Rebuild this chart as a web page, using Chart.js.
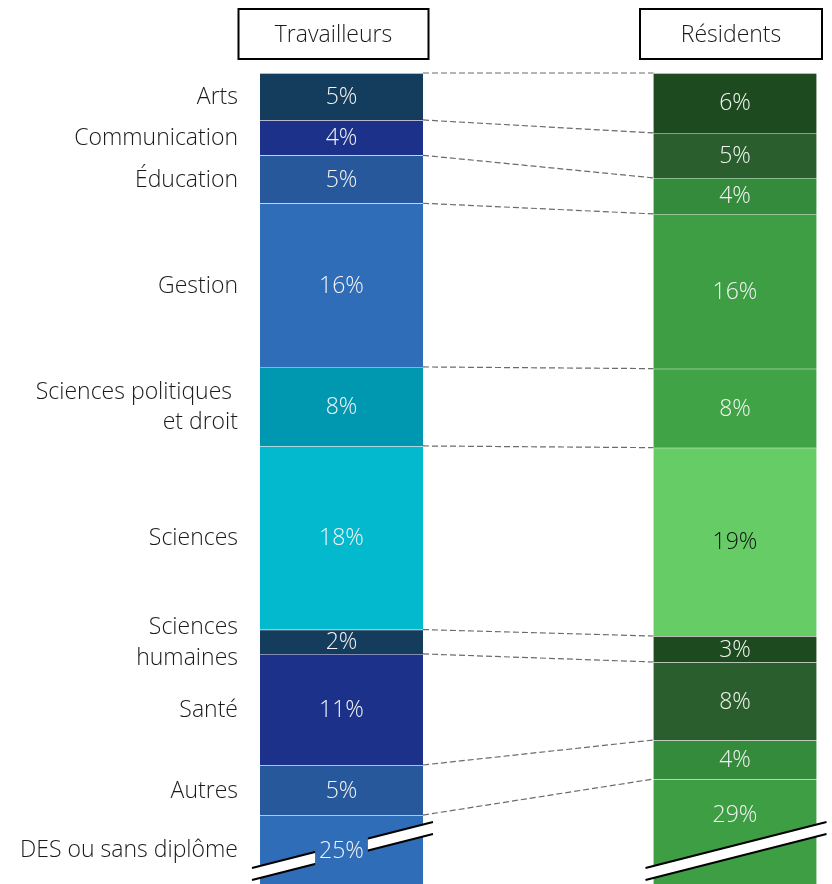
<!DOCTYPE html>
<html lang="fr">
<head>
<meta charset="utf-8">
<script src="https://cdn.jsdelivr.net/npm/chart.js@4"></script>
<style>
  html, body { margin: 0; padding: 0; background: #fff; }
  #wrap { width: 832px; height: 884px; }
</style>
</head>
<body>
<div id="wrap"><canvas id="myChart" width="832" height="884"></canvas></div>
<script>
const groups = ["Travailleurs", "Résidents"];
const categories = [
  ["Arts"],
  ["Communication"],
  ["Éducation"],
  ["Gestion"],
  ["Sciences politiques ", "et droit"],
  ["Sciences"],
  ["Sciences", "humaines"],
  ["Santé"],
  ["Autres"],
  ["DES ou sans diplôme"],
];
const travailleurs = [4.72, 3.55, 4.82, 16.45, 7.94, 18.45, 2.45, 11.16, 5.03, 25.43];
const residents = [6.02, 4.52, 3.62, 15.55, 7.94, 18.93, 2.61, 7.84, 3.92, 29.05];

const blues = ["#143d5d", "#1c318a", "#27589c", "#2f6db8", "#0097b1", "#02b9cd", "#143d5d", "#1c318a", "#27589c", "#2f6db8"];
const greens = ["#1d4b1f", "#2a5e2c", "#348b3b", "#3e9e43", "#40a346", "#66cc66", "#1d4b1f", "#2a5e2c", "#348b3b", "#3e9e43"];

const FONT = "350 23px 'Open Sans', 'DejaVu Sans', sans-serif";

// y value cut off at the bottom edge (both stacks run past it)
const yCut = 81.5;

const overlay = {
  id: "overlay",
  afterDatasetsDraw(chart) {
    const ctx = chart.ctx;
    const area = chart.chartArea;
    const n = chart.data.datasets.length;

    const box = (di, bi) => {
      const el = chart.getDatasetMeta(di).data[bi];
      const p = el.getProps(["x", "y", "base", "width"], true);
      return {
        x: p.x,
        left: p.x - p.width / 2,
        right: p.x + p.width / 2,
        top: Math.min(p.y, p.base),
        bottom: Math.max(p.y, p.base),
      };
    };

    ctx.save();

    // dashed links between the two stacks
    ctx.setLineDash([6, 3]);
    ctx.strokeStyle = "#6b6b6b";
    ctx.lineWidth = 1.2;
    for (let i = 0; i < n; i++) {
      const a = box(i, 0);
      const b = box(i, 1);
      ctx.beginPath();
      ctx.moveTo(a.right, a.top);
      ctx.lineTo(b.left, b.top);
      ctx.stroke();
    }
    ctx.setLineDash([]);

    // axis break on the last segment of each stack
    [0, 1].forEach((bi) => {
      const b = box(n - 1, bi);
      const xa = b.left - 8;
      const xb = b.right + 10;
      const ya = area.bottom - 16;
      const yb = area.bottom - 62;
      const gap = 12;
      ctx.fillStyle = "#fff";
      ctx.beginPath();
      ctx.moveTo(xa, ya);
      ctx.lineTo(xb, yb);
      ctx.lineTo(xb, yb + gap);
      ctx.lineTo(xa, ya + gap);
      ctx.closePath();
      ctx.fill();
      ctx.strokeStyle = "#000";
      ctx.lineWidth = 2;
      ctx.beginPath();
      ctx.moveTo(xa, ya);
      ctx.lineTo(xb, yb);
      ctx.moveTo(xa, ya + gap);
      ctx.lineTo(xb, yb + gap);
      ctx.stroke();
    });

    // percentages inside the segments
    ctx.font = FONT;
    ctx.textAlign = "center";
    ctx.textBaseline = "middle";
    for (let i = 0; i < n; i++) {
      [0, 1].forEach((bi) => {
        const b = box(i, bi);
        const ds = chart.data.datasets[i];
        const txt = Math.round(ds.data[bi]) + "%";
        let cy = (b.top + Math.min(b.bottom, area.bottom)) / 2;
        if (b.bottom > area.bottom) {
          cy = b.top + 35;
          const w = ctx.measureText(txt).width + 8;
          ctx.fillStyle = ds.backgroundColor[bi];
          ctx.fillRect(b.x - w / 2, cy - 15, w, 30);
        }
        ctx.fillStyle = ds.backgroundColor[bi] === "#66cc66" ? "#111" : "#f4f4f4";
        ctx.fillText(txt, b.x, cy + 1);
      });
    }

    // category names to the left of the first stack
    ctx.textAlign = "right";
    ctx.fillStyle = "#1a1a1a";
    for (let i = 0; i < n; i++) {
      const b = box(i, 0);
      const lines = categories[i];
      const cy = (b.top + Math.min(b.bottom, area.bottom)) / 2 + 1;
      const lh = 30.5;
      lines.forEach((ln, k) => {
        ctx.fillText(ln, b.left - 22, cy + (k - (lines.length - 1) / 2) * lh);
      });
    }

    // group headers in boxes
    ctx.textAlign = "center";
    const shift = [-8, -4];
    const widths = [190, 182];
    groups.forEach((g, bi) => {
      const b = box(0, bi);
      const cx = b.x + shift[bi];
      const w = widths[bi];
      ctx.strokeStyle = "#000";
      ctx.lineWidth = 2;
      ctx.strokeRect(cx - w / 2, 9, w, 50);
      ctx.fillStyle = "#1a1a1a";
      ctx.fillText(g, cx, 35);
    });

    ctx.restore();
  },
};

const ctx = document.getElementById("myChart").getContext("2d");
const myChart = new Chart(ctx, {
  type: "bar",
  data: {
    labels: groups,
    datasets: categories.map((c, i) => ({
      label: c.join(" ").trim(),
      data: [travailleurs[i], residents[i]],
      backgroundColor: [blues[i], greens[i]],
      borderColor: "#e6e6e6",
      borderWidth: { top: 1, bottom: 0, left: 0, right: 0 },
      borderSkipped: false,
      barThickness: 163,
      clip: false,
    })),
  },
  options: {
    responsive: false,
    animation: false,
    layout: {
      padding: { left: 341.5, right: 97, top: 73, bottom: 0 },
    },
    plugins: {
      legend: { display: false },
      tooltip: { enabled: false },
    },
    scales: {
      x: { stacked: true, offset: false, display: false },
      y: { stacked: true, reverse: true, min: 0, max: yCut, display: false },
    },
  },
  plugins: [overlay],
});
</script>
</body>
</html>
